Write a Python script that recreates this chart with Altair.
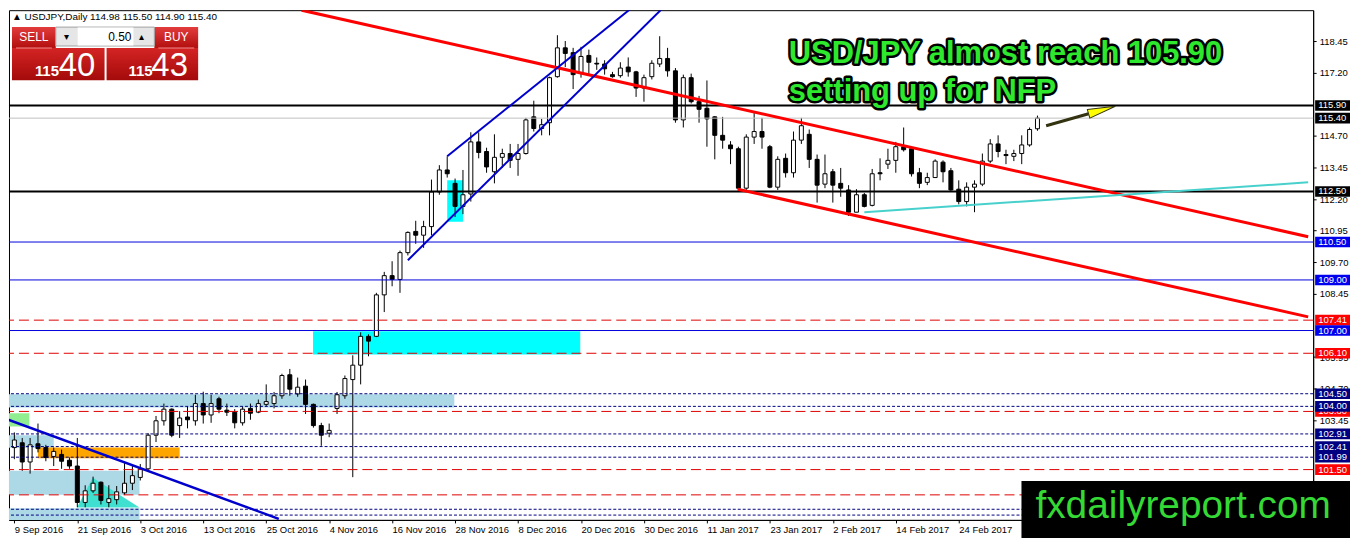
import json
import altair as alt
import pandas as pd

# ------------------------------------------------------------------ data
dates = ["9 Sep 2016", "21 Sep 2016", "3 Oct 2016", "13 Oct 2016", "25 Oct 2016",
         "4 Nov 2016", "16 Nov 2016", "28 Nov 2016", "8 Dec 2016", "20 Dec 2016",
         "30 Dec 2016", "11 Jan 2017", "23 Jan 2017", "2 Feb 2017", "14 Feb 2017",
         "24 Feb 2017"]

open_ = [
    102.37, 102.56, 101.80, 102.52, 102.37, 102.02, 102.10, 101.87, 101.64, 100.20,
    100.66, 101.00, 100.20, 100.31, 100.58, 100.96, 101.19, 101.53, 102.86, 103.43,
    103.89, 103.24, 103.58, 103.43, 104.11, 103.66, 104.30, 103.85, 103.77, 103.35,
    103.92, 103.77, 104.08, 104.11, 104.42, 105.25, 104.49, 104.80, 104.08, 103.24,
    102.94, 103.92, 104.42, 105.06, 105.63, 106.77, 106.77, 108.41, 109.17, 109.02,
    110.08, 110.92, 110.77, 111.11, 112.48, 113.35, 112.82, 111.91, 112.40, 114.46,
    114.08, 113.28, 113.85, 114.00, 113.77, 114.00, 115.45, 114.99, 115.22, 117.04,
    118.18, 117.99, 117.19, 117.88, 117.57, 117.54, 117.12, 117.08, 117.42, 117.23,
    116.59, 117.04, 117.54, 117.76, 117.27, 115.33, 117.00, 116.05, 115.79, 115.45,
    114.72, 114.34, 114.19, 112.63, 114.65, 114.87, 114.27, 112.67, 113.81, 113.24,
    114.53, 114.76, 113.77, 112.79, 113.28, 112.82, 112.56, 111.68, 112.37, 111.95,
    113.24, 113.58, 113.73, 114.27, 114.19, 113.24, 112.86, 113.05, 113.66, 113.32,
    112.59, 112.10, 112.67, 112.79, 113.70, 114.38, 113.96, 113.89, 114.00, 114.34,
    114.98]
high_ = [
    102.97, 102.75, 102.75, 103.32, 102.48, 102.37, 102.29, 101.98, 102.75, 100.88,
    101.22, 101.03, 100.88, 100.85, 101.80, 101.64, 101.72, 102.94, 103.62, 104.11,
    103.92, 103.81, 104.00, 104.46, 104.58, 104.46, 104.38, 104.11, 103.89, 104.00,
    104.11, 104.27, 104.87, 104.57, 105.29, 105.48, 105.14, 105.06, 104.11, 103.35,
    103.32, 104.57, 105.22, 106.02, 106.93, 106.85, 108.49, 109.32, 109.74, 110.16,
    110.92, 111.34, 111.34, 112.97, 113.54, 113.89, 113.01, 113.35, 114.84, 114.84,
    114.23, 114.76, 114.19, 114.38, 114.38, 115.41, 116.09, 115.37, 117.04, 118.68,
    118.45, 118.18, 118.22, 118.11, 117.80, 117.69, 117.23, 117.61, 117.80, 117.27,
    117.12, 117.69, 118.64, 118.18, 117.38, 117.12, 117.16, 116.28, 116.89, 115.48,
    115.45, 114.49, 114.27, 114.76, 115.60, 115.41, 114.34, 113.89, 114.00, 114.87,
    115.41, 114.95, 113.96, 113.96, 113.39, 113.43, 112.75, 112.59, 112.44, 113.39,
    113.81, 114.19, 114.46, 115.03, 114.27, 113.43, 113.24, 113.77, 113.73, 113.43,
    112.94, 112.86, 112.94, 114.00, 114.57, 114.72, 114.15, 114.15, 114.72, 115.03,
    115.50]
low_ = [
    101.91, 101.45, 101.34, 102.18, 101.83, 101.64, 101.53, 101.53, 100.01, 100.01,
    100.58, 100.12, 100.01, 100.12, 100.50, 100.69, 101.07, 101.45, 102.59, 103.24,
    102.78, 102.75, 103.13, 103.24, 103.32, 103.35, 103.73, 103.62, 103.13, 103.24,
    103.47, 103.73, 104.00, 103.92, 104.30, 104.42, 104.38, 103.70, 103.16, 102.44,
    102.78, 103.70, 104.30, 101.20, 104.87, 105.98, 106.74, 107.73, 108.75, 108.49,
    109.97, 110.43, 110.27, 110.77, 112.37, 113.05, 111.49, 111.60, 112.10, 113.81,
    113.24, 112.82, 113.43, 113.43, 113.12, 113.96, 114.87, 114.72, 114.72, 117.00,
    117.42, 116.55, 117.00, 117.12, 117.31, 117.12, 117.00, 117.00, 117.04, 116.24,
    116.05, 116.93, 117.42, 117.04, 115.22, 115.03, 115.98, 115.22, 114.27, 113.77,
    114.19, 113.58, 112.56, 112.56, 114.38, 114.19, 112.63, 112.56, 113.05, 113.05,
    114.38, 113.43, 112.06, 112.63, 112.06, 112.29, 111.53, 111.68, 111.87, 111.91,
    112.94, 113.39, 113.24, 114.08, 113.09, 112.63, 112.75, 113.05, 112.86, 112.52,
    111.99, 111.91, 111.68, 112.71, 113.62, 113.85, 113.58, 113.70, 113.58, 114.27,
    114.90]
close_ = [
    102.67, 101.80, 102.48, 102.33, 101.98, 102.22, 101.83, 101.64, 100.20, 100.66,
    100.96, 100.28, 100.35, 100.62, 100.96, 101.26, 101.53, 102.86, 103.43, 103.89,
    102.86, 103.54, 103.47, 104.11, 103.66, 104.11, 103.89, 103.77, 103.35, 103.89,
    103.73, 104.11, 104.19, 104.42, 105.22, 104.68, 104.76, 104.08, 103.24, 102.86,
    103.05, 104.46, 105.10, 105.63, 106.77, 106.58, 108.41, 109.17, 109.02, 110.08,
    110.88, 110.77, 111.11, 112.48, 113.35, 113.20, 111.91, 112.37, 114.46, 114.04,
    113.47, 113.85, 114.00, 113.73, 114.00, 115.33, 114.99, 115.14, 117.00, 118.18,
    117.96, 117.12, 117.84, 117.61, 117.54, 117.35, 117.04, 117.38, 117.23, 116.59,
    117.00, 117.57, 117.76, 117.27, 115.33, 117.00, 116.05, 115.75, 115.37, 114.72,
    114.53, 114.19, 112.63, 114.65, 114.87, 114.65, 112.67, 113.77, 113.24, 114.53,
    115.10, 113.77, 112.75, 113.20, 112.75, 112.63, 111.68, 112.37, 111.91, 113.20,
    113.20, 113.73, 114.27, 114.15, 113.20, 112.82, 113.05, 113.70, 113.28, 112.56,
    112.10, 112.67, 112.79, 113.70, 114.38, 114.08, 113.92, 114.00, 114.34, 114.95,
    115.40]

# horizontal price levels
hl_black = [115.90, 112.50]
hl_gray = [115.40]
hl_blue = [110.50, 109.00, 107.00]
hl_red = [107.41, 106.10, 103.80, 101.50, 100.50]
hl_navy = [104.50, 104.00, 102.91, 102.41, 101.99, 99.93, 99.70]

axis_ticks = [118.45, 117.20, 114.70, 113.45, 112.20, 110.95, 109.70,
              108.45, 105.95, 104.70, 103.45, 100.95]

tag_prices = [115.90, 115.40, 112.50, 110.50, 109.00, 107.41, 107.00, 106.10,
              104.50, 103.80, 104.00, 102.91, 102.41, 101.99, 101.50]
tag_colors = ["#000000", "#000000", "#000000", "#0000ee", "#0000ee", "#ff0000",
              "#0000ee", "#ff0000", "#000080", "#ff0000", "#000080", "#000080",
              "#000080", "#000080", "#ff0000"]

# shaded zones (bar index from/to, price from/to)
zone_i1 = [-1.0, -1.0, -1.0, -1.0, -1.0, 3.0, 37.95, 55.0]
zone_i2 = [55.9, 5.0, 15.9, 15.9, 1.9, 21.0, 71.9, 57.0]
zone_p1 = [103.96, 102.36, 100.50, 99.40, 103.20, 101.95, 106.05, 111.30]
zone_p2 = [104.48, 102.86, 101.45, 99.97, 103.73, 102.37, 106.97, 112.94]
zone_col = ["#add8e6", "#add8e6", "#add8e6", "#add8e6", "#90ee90", "#ffa500",
            "#00ffff", "#00ffff"]

tri_i = [7.96, 9.96, 15.9]
tri_p = [100.0, 101.18, 100.0]

# trend lines: (index, price) start/end
trend_lines = {
    "red_upper": [(36.5, 119.67), (164.4, 110.71)],
    "red_lower": [(91.9, 112.59), (164.4, 107.54)],
    "blue_lower": [(50.0, 109.78), (84.0, 120.25)],
    "blue_upper": [(55.0, 113.89), (80.0, 120.15)],
    "blue_down": [(-1.0, 103.50), (33.6, 99.55)],
    "turq": [(108.0, 111.68), (164.4, 112.86)],
    "arrow": [(131.1, 115.10), (136.5, 115.575)],
}
arrow_head = (138.2, 115.72)

title_lines = ["USD/JPY almost reach 105.90", "setting up for NFP"]
title_i = [98.4, 98.4]
title_p = [117.575, 116.09]

# ------------------------------------------------------------------ setup
W, H = 1310, 512
FONT = "Liberation Sans"
XS = alt.Scale(domain=[-0.05, 164.4], nice=False, zero=False)
YS = alt.Scale(domain=[99.51, 119.67], nice=False, zero=False)

x_axis = alt.Axis(values=list(range(0, 121, 8)),
                  labelExpr=json.dumps(dates) + "[round(datum.value / 8)]",
                  title=None, grid=False, tickSize=3, labelAlign="left",
                  labelPadding=2, labelFontSize=9.5, labelFont=FONT,
                  labelColor="black", tickColor="black", domainColor="black",
                  labelOverlap=False, labelFlush=False)
y_axis = alt.Axis(orient="right", values=axis_ticks, format=".2f", title=None,
                  grid=False, tickSize=3, labelPadding=3, labelFontSize=9.5,
                  labelFont=FONT, labelColor="black", tickColor="black",
                  domainColor="black", labelOverlap=False, labelFlush=False)


def X(f):
    return alt.X(f, type="quantitative", scale=XS, axis=x_axis)


def Y(f):
    return alt.Y(f, type="quantitative", scale=YS, axis=y_axis)


candles = pd.DataFrame({"i": list(range(len(open_))), "open": open_, "high": high_,
                        "low": low_, "close": close_})
candles["fill"] = ["white" if c >= o else "black" for o, c in zip(open_, close_)]

zones = pd.DataFrame({"i1": zone_i1, "i2": zone_i2, "p1": zone_p1, "p2": zone_p2,
                      "c": zone_col})
tri = pd.DataFrame({"i": tri_i, "p": tri_p, "base": [100.0] * 3})

layers = []
layers.append(alt.Chart(zones).mark_rect(clip=True).encode(
    x=X("i1"), x2="i2", y=Y("p1"), y2="p2", color=alt.Color("c:N", scale=None)))
layers.append(alt.Chart(tri).mark_area(clip=True, color="#40e0d0").encode(
    x=X("i"), y=Y("p"), y2="base"))

# candles
layers.append(alt.Chart(candles).mark_rule(color="black", strokeWidth=1, clip=True).encode(
    x=X("i"), y=Y("low"), y2="high"))
layers.append(alt.Chart(candles).mark_bar(size=4, stroke="black", strokeWidth=1,
                                          clip=True).encode(
    x=X("i"), y=Y("open"), y2="close", fill=alt.Fill("fill:N", scale=None)))


def hlines(vals, **kw):
    return alt.Chart(pd.DataFrame({"p": vals})).mark_rule(**kw).encode(y=Y("p"))


layers.append(hlines(hl_gray, color="#c0c0c0", strokeWidth=1))
layers.append(hlines(hl_blue, color="#0000dd", strokeWidth=1))
layers.append(hlines(hl_red, color="#e00000", strokeWidth=1, strokeDash=[10, 5]))
layers.append(hlines(hl_navy, color="#000080", strokeWidth=1, strokeDash=[3, 2]))
layers.append(hlines(hl_black, color="black", strokeWidth=2))

line_style = {
    "red_upper": dict(color="#ff0000", strokeWidth=3),
    "red_lower": dict(color="#ff0000", strokeWidth=3),
    "blue_lower": dict(color="#0000cc", strokeWidth=2),
    "blue_upper": dict(color="#0000cc", strokeWidth=2),
    "blue_down": dict(color="#0000cc", strokeWidth=2.5),
    "turq": dict(color="#48d1cc", strokeWidth=2),
    "arrow": dict(color="#333311", strokeWidth=3),
}
for name, pts in trend_lines.items():
    df = pd.DataFrame({"i": [p[0] for p in pts], "p": [p[1] for p in pts]})
    layers.append(alt.Chart(df).mark_line(clip=True, **line_style[name]).encode(
        x=X("i"), y=Y("p")))

layers.append(alt.Chart(pd.DataFrame({"i": [arrow_head[0]], "p": [arrow_head[1]]})).mark_point(
    shape="M -1 -0.32 L 1 0 L -1 0.32 Z", filled=True, fill="#ffff00", color="#ffff00",
    stroke="#333311", strokeWidth=1, size=784, angle=344, opacity=1).encode(
    x=X("i"), y=Y("p")))

# title
tdf = pd.DataFrame({"i": title_i, "p": title_p, "t": title_lines})
layers.append(alt.Chart(tdf).mark_text(align="left", baseline="alphabetic", fontSize=31,
                                       font=FONT, fontWeight="bold", fill="black",
                                       stroke="black", strokeWidth=5,
                                       strokeJoin="round").encode(
    x=X("i"), y=Y("p"), text="t:N"))
layers.append(alt.Chart(tdf).mark_text(align="left", baseline="alphabetic", fontSize=31,
                                       font=FONT, fontWeight="bold",
                                       fill="#2ee82e").encode(
    x=X("i"), y=Y("p"), text="t:N"))

# price tags on the right axis
tags = pd.DataFrame({"p": tag_prices, "c": tag_colors})
tags["lo"] = tags["p"] - 0.21
tags["hi"] = tags["p"] + 0.21
tags["t"] = [f"{v:.2f}" for v in tag_prices]
for k in range(len(tags)):
    row = tags.iloc[[k]]
    layers.append(alt.Chart(row).mark_rect().encode(
        y=Y("lo"), y2="hi", x=alt.value(W + 2), x2=alt.value(W + 37),
        color=alt.Color("c:N", scale=None)))
    layers.append(alt.Chart(row).mark_text(align="left", baseline="middle", fontSize=9.5,
                                           font=FONT, color="white").encode(
        y=Y("p"), x=alt.value(W + 5), text="t:N"))

one = pd.DataFrame({"a": [0]})


def px_rect(x, x2, y, y2, **kw):
    return alt.Chart(one).mark_rect(**kw).encode(
        x=alt.value(x), x2=alt.value(x2), y=alt.value(y), y2=alt.value(y2))


def px_text(x, y, text, **kw):
    return alt.Chart(one).mark_text(text=text, font=FONT, **kw).encode(
        x=alt.value(x), y=alt.value(y))


# watermark
layers.append(px_rect(1017, W + 40, 473, H + 20, color="black"))
layers.append(px_text(1031, 510, "fxdailyreport.com", fontSize=39, color="#35d935",
                      align="left", baseline="alphabetic"))

# trade panel (top-left)
red_grad = {"gradient": "linear", "x1": 0, "y1": 0, "x2": 0, "y2": 1,
            "stops": [{"offset": 0, "color": "#e23b3b"}, {"offset": 1, "color": "#b30f0f"}]}
red_grad2 = {"gradient": "linear", "x1": 0, "y1": 0, "x2": 0, "y2": 1,
             "stops": [{"offset": 0, "color": "#d42424"}, {"offset": 1, "color": "#a40a0a"}]}
layers.append(px_text(3, 7, "\u25b2 USDJPY,Daily  114.98 115.50 114.90 115.40", fontSize=10,
                      color="black", align="left", baseline="middle"))
layers.append(px_rect(3, 47, 17, 38, fill=red_grad))
layers.append(px_rect(146, 190, 17, 38, fill=red_grad))
layers.append(px_rect(3, 96, 38, 70.5, fill=red_grad2))
layers.append(px_rect(98, 190, 38, 70.5, fill=red_grad2))
layers.append(px_rect(47, 146, 17, 36, fill="#e6e6e6", stroke="#a0a0a0", strokeWidth=1))
layers.append(px_rect(69, 125, 17.5, 35.5, fill="white"))
layers.append(px_rect(7, 43, 37.5, 38.5, fill="#f08c8c"))
layers.append(px_rect(150, 186, 37.5, 38.5, fill="#f08c8c"))
layers.append(px_text(25, 27, "SELL", fontSize=12, color="white", align="center",
                      baseline="middle"))
layers.append(px_text(168, 27, "BUY", fontSize=12, color="white", align="center",
                      baseline="middle"))
layers.append(px_text(123, 27, "0.50", fontSize=12, color="black", align="right",
                      baseline="middle"))
layers.append(px_text(58, 27, "\u25be", fontSize=10, color="black", align="center",
                      baseline="middle"))
layers.append(px_text(133, 27, "\u25b4", fontSize=10, color="black", align="center",
                      baseline="middle"))
layers.append(px_text(26, 66.5, "115", fontSize=15, color="white", align="left",
                      baseline="alphabetic", fontWeight="bold"))
layers.append(px_text(50, 66.5, "40", fontSize=33, color="white", align="left",
                      baseline="alphabetic"))
layers.append(px_text(120, 66.5, "115", fontSize=15, color="white", align="left",
                      baseline="alphabetic", fontWeight="bold"))
layers.append(px_text(143, 66.5, "43", fontSize=33, color="white", align="left",
                      baseline="alphabetic"))

chart = alt.layer(*layers).properties(
    width=W, height=H,
    autosize=alt.AutoSizeParams(type="none"),
    padding={"left": 1, "top": 1, "right": 37, "bottom": 17},
    background="white",
).configure_view(stroke="black", strokeWidth=1)

chart.save("out.html", embed_options={"renderer": "svg", "actions": False})
